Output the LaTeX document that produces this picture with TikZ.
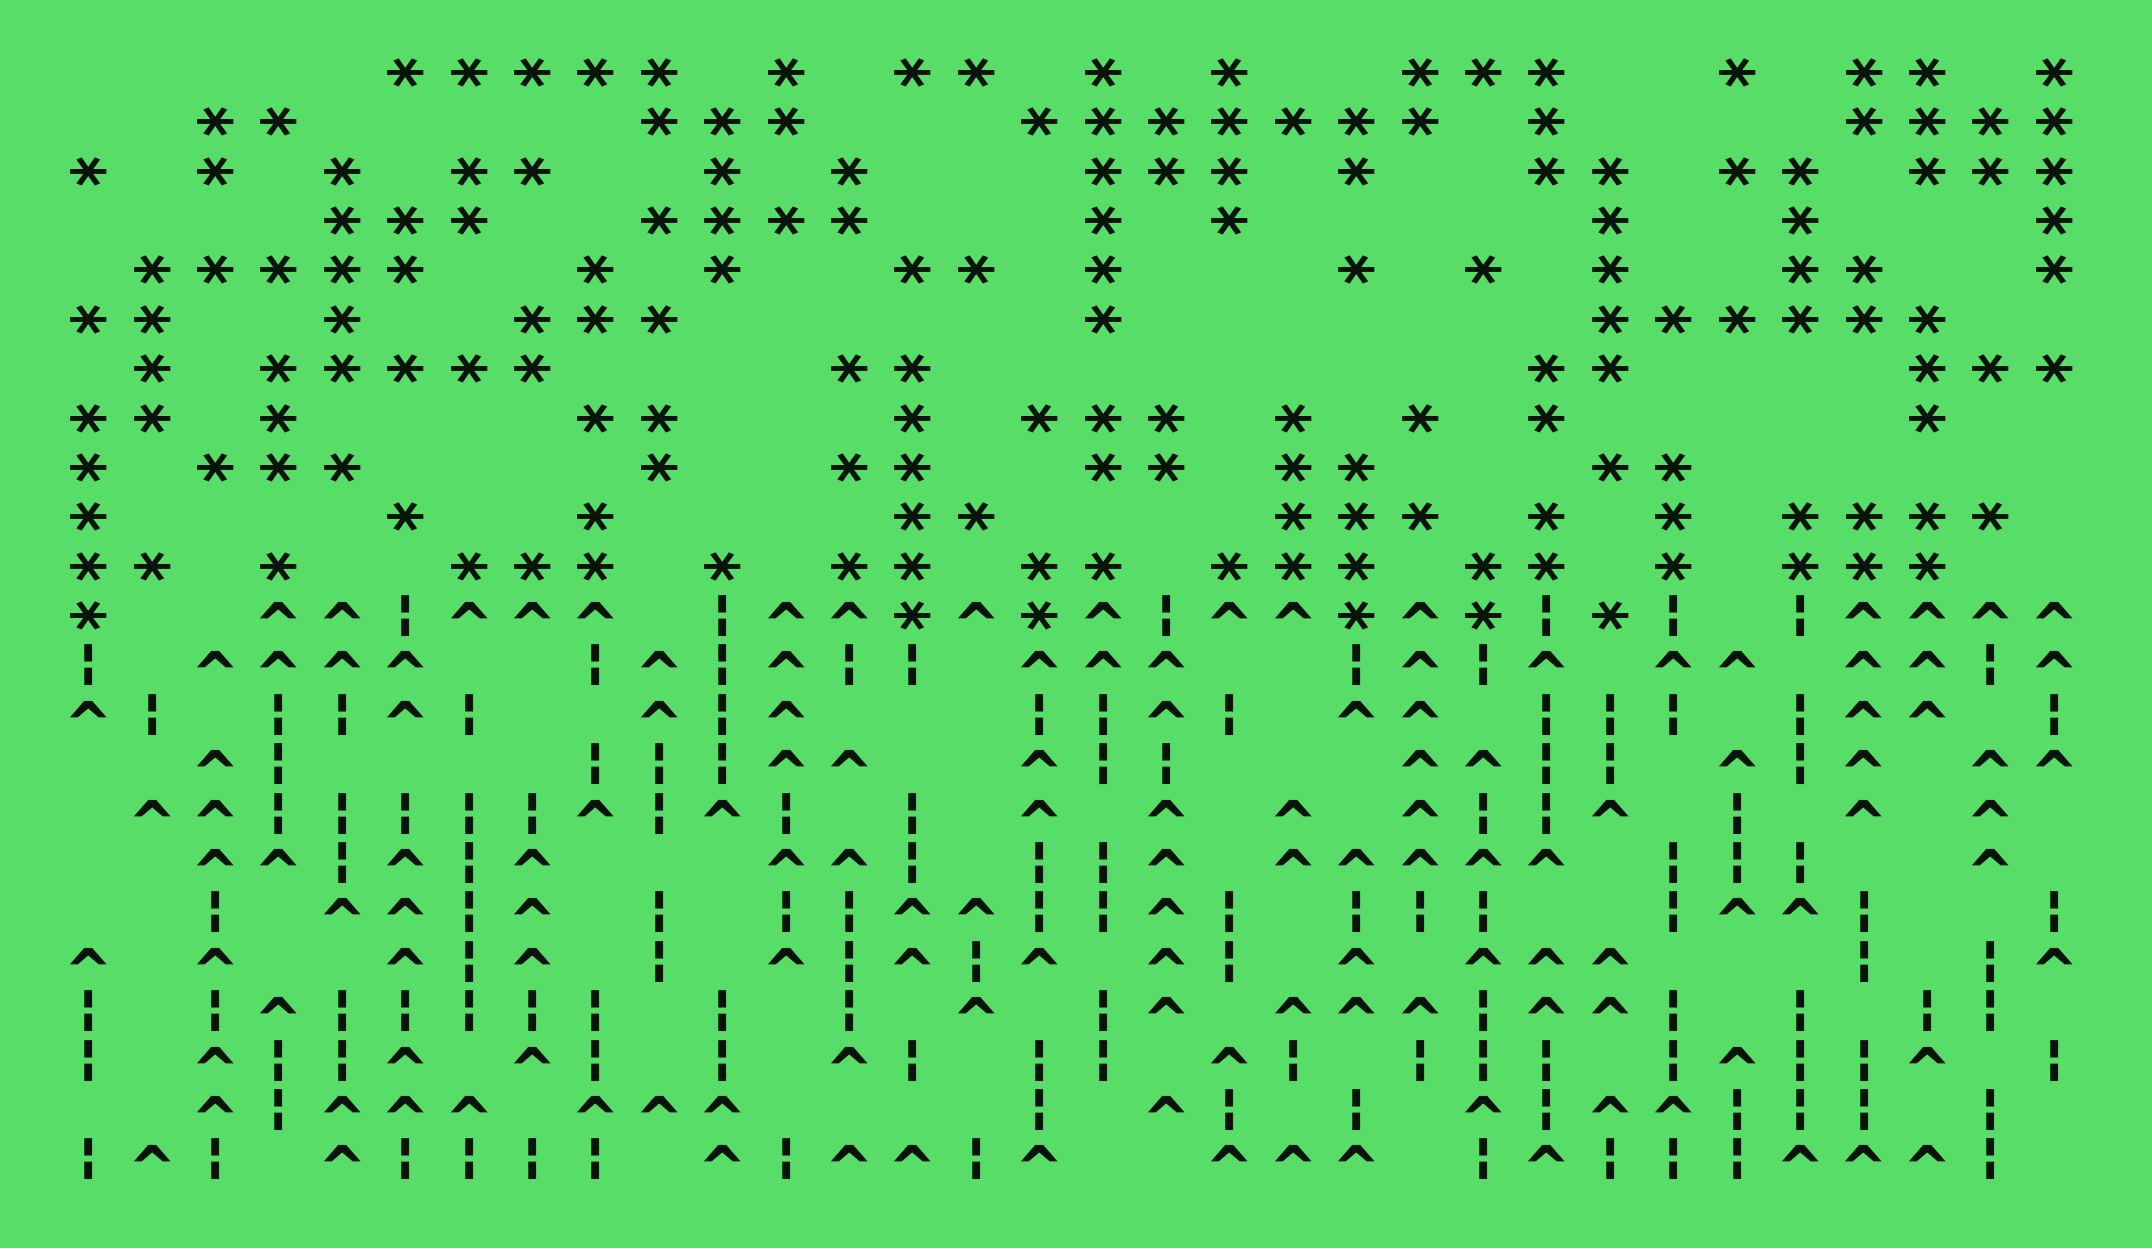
\documentclass[tikz,border=0pt]{standalone}
\usepackage{fontspec}
\newfontfamily\dvm{DejaVu Sans Mono}
\definecolor{bggreen}{RGB}{88,221,105}
\definecolor{ink}{RGB}{8,20,10}
\tikzset{
  glyph/.style={inner sep=0pt, outer sep=0pt, text=ink},
  astx/.style={glyph, font=\dvm\bfseries\fontsize{39}{39}\selectfont},
  caretx/.style={glyph, font=\dvm\bfseries\fontsize{33.6}{33.6}\selectfont},
  barx/.style={glyph, font=\dvm\bfseries\fontsize{23.5}{23.5}\selectfont}
}
\newcommand{\AST}{\scalebox{1}[0.75]{\rotatebox{90}{\raisebox{-0.29em}[0.44em][0pt]{*}}}}
\newcommand{\CAR}{\scalebox{1}[0.9]{\raisebox{-0.458em}[0.28em][0pt]{\textasciicircum}}}
\newcommand{\BAR}{\scalebox{1.5}[1]{¦}}
\begin{document}
\begin{tikzpicture}[x=0.5pt,y=-0.5pt]
\fill[bggreen] (0,0) rectangle (2152,1248);
\useasboundingbox (0,0) rectangle (2152,1248);
% asterisks
\foreach \r/\cl in {
 0/{5,6,7,8,9,11,13,14,16,18,21,22,23,26,28,29,31},
 1/{2,3,9,10,11,15,16,17,18,19,20,21,23,28,29,30,31},
 2/{0,2,4,6,7,10,12,16,17,18,20,23,24,26,27,29,30,31},
 3/{4,5,6,9,10,11,12,16,18,24,27,31},
 4/{1,2,3,4,5,8,10,13,14,16,20,22,24,27,28,31},
 5/{0,1,4,7,8,9,16,24,25,26,27,28,29},
 6/{1,3,4,5,6,7,12,13,23,24,29,30,31},
 7/{0,1,3,8,9,13,15,16,17,19,21,23,29},
 8/{0,2,3,4,9,12,13,16,17,19,20,24,25},
 9/{0,5,8,13,14,19,20,21,23,25,27,28,29,30},
 10/{0,1,3,6,7,8,10,12,13,15,16,18,19,20,22,23,25,27,28,29},
 11/{0,13,15,20,22,24}}{
  \foreach \c in \cl {
    \node[astx] (a-\r-\c) at ({89+63.4*\c},{72.7+49.4*\r}) {\AST};
  }
}
% carets
\foreach \r/\cl in {
 11/{3,4,6,7,8,11,12,14,16,18,19,21,28,29,30,31},
 12/{2,3,4,5,9,11,15,16,17,21,23,25,26,28,29,31},
 13/{0,5,9,11,17,20,21,28,29},
 14/{2,11,12,15,21,22,26,28,30,31},
 15/{1,2,8,10,15,17,19,21,24,28,30},
 16/{2,3,5,7,11,12,17,19,20,21,22,23,30},
 17/{4,5,7,13,14,17,26,27},
 18/{0,2,5,7,11,13,15,17,20,22,23,24,31},
 19/{3,14,17,19,20,21,23,24},
 20/{2,5,7,12,18,26,29},
 21/{2,4,5,6,8,9,10,17,22,24,25},
 22/{1,4,10,12,13,15,18,19,20,23,27,28,29}}{
  \foreach \c in \cl {
    \node[caretx] (c-\r-\c) at ({89+63.4*\c},{72.7+49.4*\r-5.7}) {\CAR};
  }
}
% broken bars
\foreach \r/\cl in {
 11/{5,10,17,23,25,27},
 12/{0,8,10,12,13,20,22,30},
 13/{1,3,4,6,10,15,16,18,23,24,25,27,31},
 14/{3,8,9,10,16,17,23,24,27},
 15/{3,4,5,6,7,9,11,13,22,23,26},
 16/{4,6,13,15,16,25,26,27},
 17/{2,6,9,11,12,15,16,18,20,21,22,25,28,31},
 18/{6,9,12,14,18,28,30},
 19/{0,2,4,5,6,7,8,10,12,16,22,25,27,29,30},
 20/{0,3,4,8,10,13,15,16,19,21,22,23,25,27,28,31},
 21/{3,15,18,20,23,26,27,28,30},
 22/{0,2,5,6,7,8,11,14,22,24,25,26,30}}{
  \foreach \c in \cl {
    \node[barx] (b-\r-\c) at ({89+63.4*\c},{72.7+49.4*\r}) {\BAR};
  }
}
\end{tikzpicture}
\end{document}
